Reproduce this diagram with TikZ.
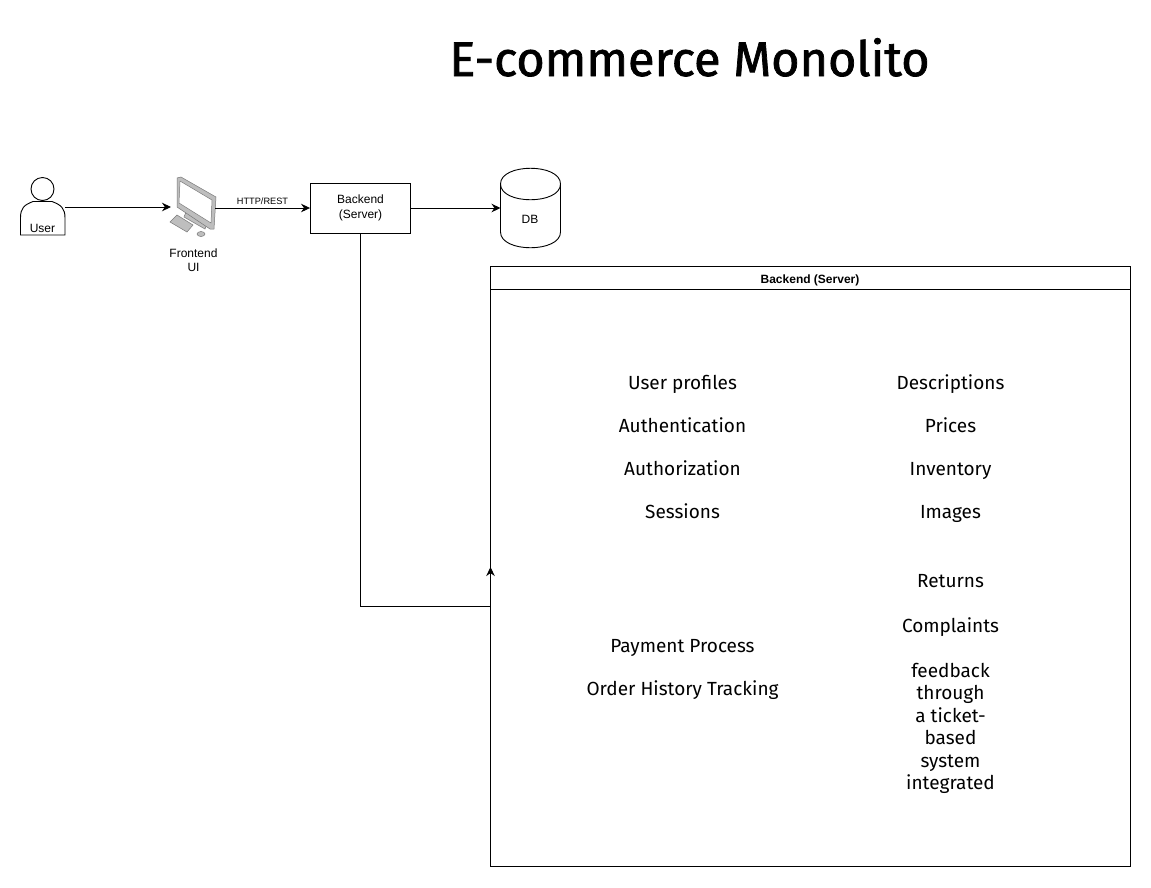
\documentclass[tikz,border=0pt]{standalone}
\usepackage{fontspec}
\setmainfont{Liberation Sans}
\newfontfamily\handfont{Fira Sans}
\newfontfamily\titlefont[FakeBold=1.5]{Fira Sans}
\usetikzlibrary{positioning,shapes.geometric,arrows.meta}
\definecolor{iconedge}{RGB}{120,120,120}
\definecolor{iconfill}{RGB}{190,190,190}
\tikzset{
  conn/.style={-{Stealth[length=9pt,width=8.5pt]},line width=0.9pt},
  edgeline/.style={line width=0.9pt},
  plainlabel/.style={inner sep=0pt,align=center,font=\fontsize{12}{14}\selectfont},
  handlabel/.style={inner sep=0pt,align=center,anchor=base,font=\handfont\fontsize{19}{22.5}\selectfont},
  iconpart/.style={draw=iconedge,fill=iconfill,line width=0.5pt}
}
\begin{document}
\begin{tikzpicture}[x=1pt,y=-1pt]
\useasboundingbox (0,0) rectangle (1151,887);
\node[inner sep=0pt,anchor=base,font=\titlefont\fontsize{48.6}{56}\selectfont] (title) at (689.5,76) {E-commerce Monolito};
% user
\draw[edgeline,fill=white] (20.5,235) -- (20.5,218) .. controls (20.5,208) and (24,205) .. (33,201.5) -- (52,201.5) .. controls (61,205) and (65,208) .. (65,218) -- (65,235) -- cycle;
\draw[edgeline,fill=white] (42.5,189) circle (11.5);
\node[plainlabel] (user) at (42.5,228) {User};
\coordinate (userout) at (65,207);
% frontend icon
\coordinate (frontin) at (171,207);
\coordinate (frontout) at (215,208);
\draw[iconpart] (186,212) -- (207,224) -- (205,229) -- (184,217) -- cycle;
\draw[iconpart] (177,178) -- (181,177) -- (216,197) -- (214,229) -- (210,229) -- (177,207) -- cycle;
\draw[draw=iconedge,fill=white,line width=0.5pt] (180,181) -- (212,200) -- (211,223) -- (179,203) -- cycle;
\draw[iconpart] (170,222) -- (177,215) -- (193,225) -- (187,232) -- cycle;
\draw[iconpart] (201,234) ellipse (4 and 2.5);
\node[plainlabel] (frontend) at (193.5,260) {Frontend\\UI};
% backend
\node[draw,edgeline,minimum width=100pt,minimum height=50pt,inner sep=0pt,align=center,font=\fontsize{12}{15}\selectfont] (backend) at (360.5,208) {Backend\\(Server)};
% db
\draw[edgeline,fill=white] (500.5,184) -- (500.5,232) .. controls (500.5,253) and (560.5,253) .. (560.5,232) -- (560.5,184) .. controls (560.5,163) and (500.5,163) .. (500.5,184) -- cycle;
\draw[edgeline] (500.5,184) .. controls (500.5,205) and (560.5,205) .. (560.5,184);
\node[plainlabel] (db) at (530,219) {DB};
\coordinate (dbin) at (500.5,208);
% container
\draw[edgeline] (490.5,266.5) rectangle (1130.5,866.5);
\draw[edgeline] (490.5,289.5) -- (1130.5,289.5);
\node[inner sep=0pt,anchor=base,font=\bfseries\fontsize{12}{14}\selectfont] (boxtitle) at (810,283) {Backend (Server)};
\coordinate (boxin) at (490.5,567);
\coordinate (bend) at (360.5,606.5);
\node[handlabel] (users1) at (682.5,389) {User profiles};
\node[handlabel] (users2) at (682.5,432) {Authentication};
\node[handlabel] (users3) at (682.5,475) {Authorization};
\node[handlabel] (users4) at (682.5,518) {Sessions};
\node[handlabel] (prod1) at (950.5,389) {Descriptions};
\node[handlabel] (prod2) at (950.5,432) {Prices};
\node[handlabel] (prod3) at (950.5,475) {Inventory};
\node[handlabel] (prod4) at (950.5,518) {Images};
\node[handlabel] (pay1) at (682.5,652) {Payment Process};
\node[handlabel] (pay2) at (682.5,695) {Order History Tracking};
\node[handlabel] (ret1) at (950.5,587) {Returns};
\node[handlabel] (ret2) at (950.5,632) {Complaints};
\node[handlabel,anchor=north] (ret3) at (950.5,663) {feedback\\through\\a ticket-\\based\\system\\integrated};
% connectors
\draw[conn] (userout) -- (frontin);
\draw[conn] (frontout) -- node[above=3pt,inner sep=0pt,font=\fontsize{9.2}{11}\selectfont] (http) {HTTP/REST} (backend.west);
\draw[conn] (backend.east) -- (dbin);
\draw[conn] (backend.south) -- (bend) -| (boxin);
\end{tikzpicture}
\end{document}
